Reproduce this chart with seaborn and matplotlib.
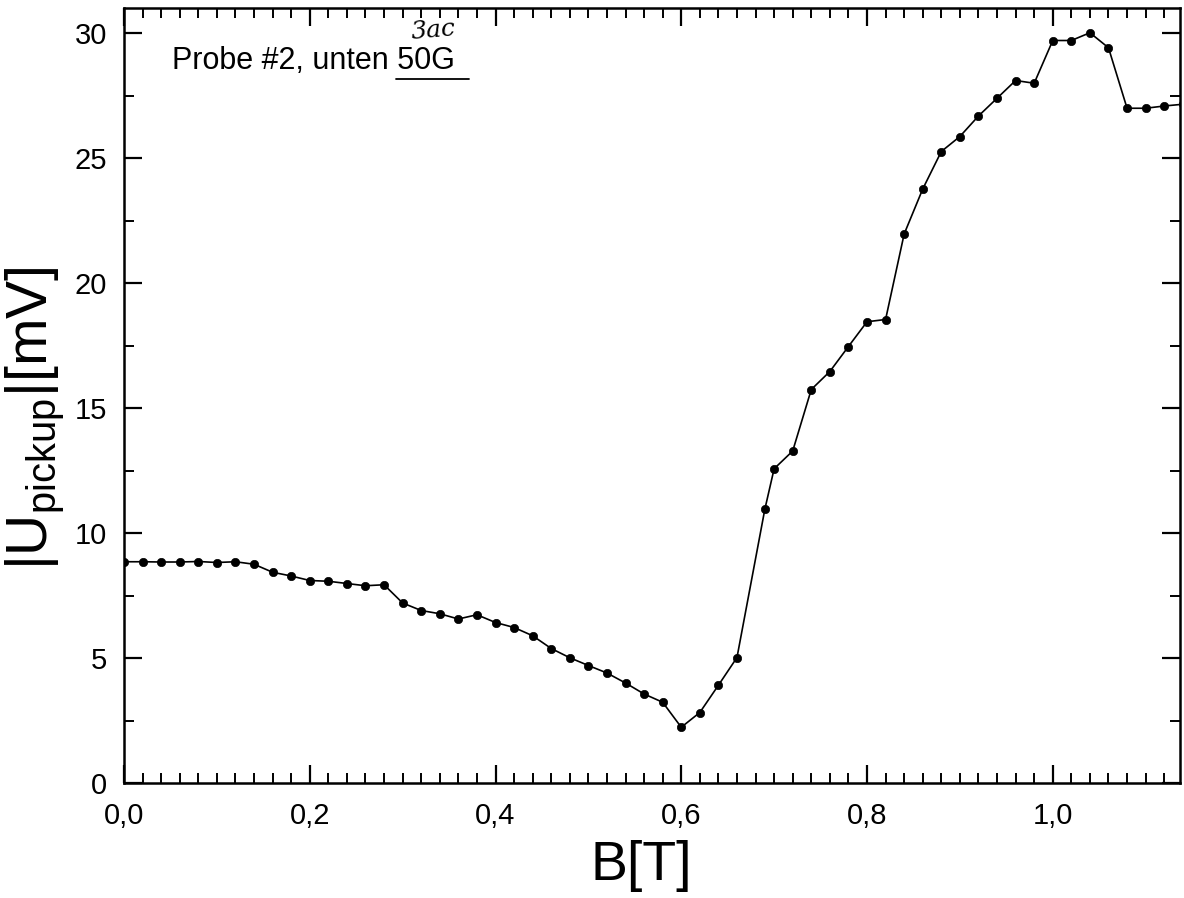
import matplotlib
matplotlib.use("Agg")
import matplotlib.pyplot as plt
from matplotlib.ticker import MultipleLocator, FuncFormatter
from matplotlib.lines import Line2D
import seaborn as sns
import pandas as pd

# Data
B_T = [0.00, 0.02, 0.04, 0.06, 0.08, 0.10, 0.12, 0.14, 0.16, 0.18,
       0.20, 0.22, 0.24, 0.26, 0.28, 0.30, 0.32, 0.34, 0.36, 0.38,
       0.40, 0.42, 0.44, 0.46, 0.48, 0.50, 0.52, 0.54, 0.56, 0.58,
       0.60, 0.62, 0.64, 0.66, 0.69, 0.70, 0.72, 0.74, 0.76, 0.78,
       0.80, 0.82, 0.84, 0.86, 0.88, 0.90, 0.92, 0.94, 0.96, 0.98,
       1.00, 1.02, 1.04, 1.06, 1.08, 1.10, 1.12, 1.14]
U_mV = [8.85, 8.85, 8.84, 8.84, 8.86, 8.82, 8.85, 8.75, 8.43, 8.28,
        8.10, 8.07, 7.98, 7.89, 7.93, 7.20, 6.90, 6.77, 6.56, 6.73,
        6.42, 6.22, 5.89, 5.38, 5.01, 4.70, 4.40, 4.00, 3.56, 3.23,
        2.23, 2.82, 3.91, 5.02, 10.95, 12.57, 13.28, 15.74, 16.46, 17.46,
        18.45, 18.54, 21.96, 23.76, 25.26, 25.86, 26.68, 27.39, 28.10, 27.99,
        29.70, 29.70, 30.01, 29.41, 26.99, 26.99, 27.08, 27.15]

x_major_ticks = [0.0, 0.2, 0.4, 0.6, 0.8, 1.0]
y_major_ticks = [0, 5, 10, 15, 20, 25, 30]
annotation_text = "Probe #2, unten 50G"
handwritten_text = "3ac"

df = pd.DataFrame({"B": B_T, "U": U_mV})

sns.set_theme(style="ticks")
plt.rcParams["font.family"] = ["Liberation Sans", "DejaVu Sans"]
plt.rcParams["mathtext.fontset"] = "custom"
plt.rcParams["mathtext.rm"] = "Liberation Sans"

W, H = 1184, 898
fig = plt.figure(figsize=(W / 100, H / 100), dpi=100)
fig.patch.set_facecolor("white")
ax = fig.add_axes([124 / W, 1 - 783 / H, (1180 - 124) / W, (783 - 8) / H])
ax.set_facecolor("white")

sns.lineplot(data=df, x="B", y="U", ax=ax, color="black", linewidth=1.2,
             marker="o", markersize=6, markeredgecolor="black",
             markerfacecolor="black", markeredgewidth=0.5)

ax.set_xlim(0, 1.137)
ax.set_ylim(0, 31.0)

ax.set_xticks(x_major_ticks)
ax.set_yticks(y_major_ticks)
ax.xaxis.set_minor_locator(MultipleLocator(0.02))
ax.yaxis.set_minor_locator(MultipleLocator(2.5))
ax.xaxis.set_major_formatter(FuncFormatter(lambda v, p: f"{v:.1f}".replace(".", ",")))
ax.yaxis.set_major_formatter(FuncFormatter(lambda v, p: f"{v:.0f}"))

ax.tick_params(which="both", direction="in", top=True, right=True, color="black")
ax.tick_params(which="major", length=13, width=1.6, labelsize=21, pad=14, labelcolor="black")
ax.tick_params(axis="y", which="major", pad=12)
ax.tick_params(which="minor", length=7, width=1.4)

for sp in ax.spines.values():
    sp.set_visible(True)
    sp.set_linewidth(1.8)
    sp.set_color("black")

ax.set_xlabel("B[T]", fontsize=40, color="black")
ax.set_ylabel(r"|U$_\mathregular{pickup}$|[mV]", fontsize=41, color="black")
ax.xaxis.set_label_coords(0.49, -0.074)
ax.yaxis.set_label_coords(-0.055, 0.47)

ax.text(0.0455, 0.921, annotation_text, transform=ax.transAxes, fontsize=22,
        ha="left", va="baseline", color="black")
ax.add_line(Line2D([0.258, 0.327], [0.909, 0.909], transform=ax.transAxes,
                   color="black", linewidth=1.3))
ax.text(0.293, 0.971, handwritten_text, transform=ax.transAxes, fontsize=18,
        ha="center", va="center", color="black", fontstyle="italic",
        family=["DejaVu Serif"], rotation=5)

sns.despine(ax=ax, top=False, right=False)
fig.savefig("out.png", dpi=100, facecolor="white")
